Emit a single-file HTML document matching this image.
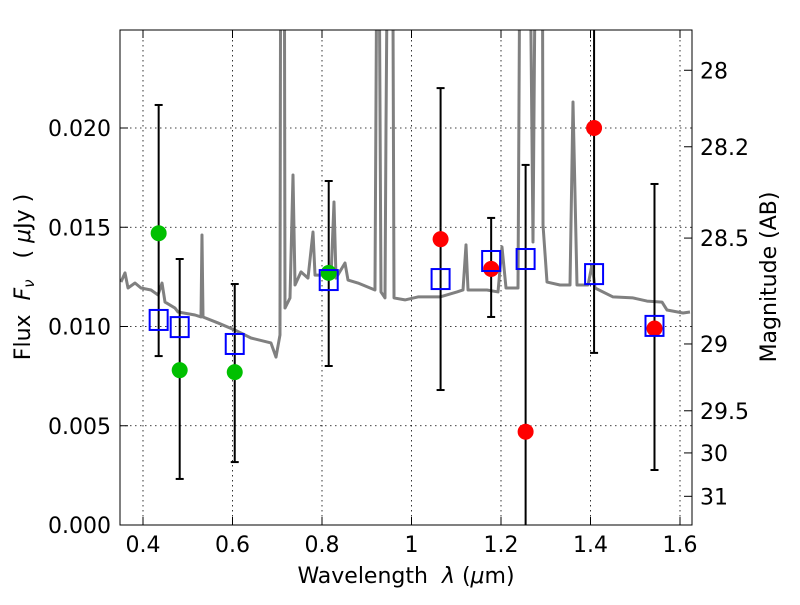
<!DOCTYPE html>
<html><head><meta charset="utf-8"><style>
body{margin:0;background:#fff}
svg text{font-family:"DejaVu Sans","Liberation Sans",sans-serif;fill:#000}
</style></head><body>
<svg id="chart" width="800" height="600" xmlns="http://www.w3.org/2000/svg">
<defs><clipPath id="pc"><rect x="120" y="30" width="572" height="495"/></clipPath></defs>
<rect width="800" height="600" fill="#fff"/>
<g id="grid"></g>
<g id="spec" clip-path="url(#pc)"></g>
<g id="marks" clip-path="url(#pc)"></g>
<rect x="120" y="30" width="572" height="495" fill="none" stroke="#000" stroke-width="1"/>
<g id="axes"></g>
<text x="406" y="583" font-size="22" text-anchor="middle">Wavelength&#160;&#160;<tspan font-style="italic">λ</tspan> (<tspan font-style="italic">μ</tspan>m)</text>
<text transform="translate(30,277) rotate(-90)" font-size="22" text-anchor="middle">Flux&#160;&#160;<tspan font-style="italic">F</tspan><tspan font-size="15" dy="4" font-style="italic">ν</tspan><tspan dy="-4">&#160;&#160;&#160;( <tspan font-style="italic">μ</tspan>Jy )</tspan></text>
<text transform="translate(776,277) rotate(-90)" font-size="22" text-anchor="middle">Magnitude (AB)</text>
</svg>
<script>
const specWl=[0.3508,0.3598,0.3665,0.3821,0.3955,0.4179,0.4335,0.4425,0.4492,0.4715,0.4782,0.5162,0.5296,0.5318,0.5341,0.5676,0.6056,0.6413,0.6860,0.6972,0.7061,0.7084,0.7151,0.7173,0.7285,0.7352,0.7397,0.7531,0.7687,0.7799,0.7844,0.8067,0.8201,0.8268,0.8313,0.8514,0.8581,0.8804,0.9184,0.9251,0.9318,0.9408,0.9430,0.9497,0.9564,0.9609,0.9855,1.0145,1.0637,1.1017,1.1151,1.1218,1.1263,1.1687,1.1933,1.2022,1.2112,1.2380,1.2447,1.2514,1.2603,1.2715,1.2804,1.2916,1.2939,1.3028,1.3318,1.3542,1.3609,1.3698,1.3944,1.4034,1.4101,1.4503,1.4950,1.5263,1.5598,1.5710,1.6067,1.6223];
const specFlux=[0.01224,0.01270,0.01194,0.01219,0.01194,0.01184,0.01159,0.01219,0.01123,0.01093,0.01073,0.01058,0.01048,0.01461,0.01048,0.01018,0.00982,0.00942,0.00917,0.00846,0.00957,0.04,0.04,0.01093,0.01144,0.01763,0.01209,0.01275,0.01244,0.01476,0.01259,0.01259,0.01244,0.01627,0.01244,0.01320,0.01234,0.01219,0.01184,0.04,0.01174,0.01144,0.02000,0.04,0.04,0.01144,0.01134,0.01149,0.01149,0.01174,0.01184,0.01411,0.01184,0.01184,0.01174,0.01401,0.01194,0.01194,0.04,0.04,0.04,0.01426,0.04,0.04,0.01511,0.01224,0.01209,0.01209,0.02131,0.01209,0.01209,0.01310,0.01194,0.01149,0.01144,0.01128,0.01123,0.01083,0.01068,0.01073];
const greenWl=[0.435,0.482,0.605,0.815];
const greenFlux=[0.0147,0.0078,0.0077,0.0127];
const redWl=[1.065,1.178,1.255,1.408,1.543];
const redFlux=[0.0144,0.0129,0.0047,0.0200,0.0099];
const sqWl=[0.435,0.482,0.605,0.815,1.065,1.178,1.255,1.408,1.543];
const sqFlux=[0.01033,0.00997,0.00912,0.01234,0.01239,0.0133,0.0134,0.01264,0.01003];
const errHi=[0.02116,0.0134,0.01214,0.01733,0.02201,0.01547,0.01814,0.03,0.01718];
const errLo=[0.00851,0.00232,0.00317,0.00801,0.0068,0.01048,-0.002,0.00867,0.00277];
const xTicks=[0.4,0.6,0.8,1.0,1.2,1.4,1.6];
const xTickLabels=["0.4","0.6","0.8","1","1.2","1.4","1.6"];
const yTicks=[0,0.005,0.010,0.015,0.020];
const yTickLabels=["0.000","0.005","0.010","0.015","0.020"];
const magTicks=[28,28.2,28.5,29,29.5,30,31];
const magTickLabels=["28","28.2","28.5","29","29.5","30","31"];

const NS="http://www.w3.org/2000/svg";
const X=w=>143+(w-0.4)*447.5;
const Y=f=>525-f*19850;
const magToFlux=m=>Math.pow(10,(23.9-m)/2.5);
function mk(tag,attrs,parent){const e=document.createElementNS(NS,tag);for(const k in attrs)e.setAttribute(k,attrs[k]);parent.appendChild(e);return e;}
const grid=document.getElementById('grid'),axes=document.getElementById('axes'),spec=document.getElementById('spec'),marks=document.getElementById('marks');
xTicks.forEach((t,i)=>{const x=X(t);
 const g=mk('line',{x1:x,x2:x,y1:30,y2:525,stroke:'#000','stroke-width':0.8,'stroke-dasharray':'1.5,3.5'},grid);
 
 mk('line',{x1:x,x2:x,y1:525,y2:517,stroke:'#000'},axes);
 mk('line',{x1:x,x2:x,y1:30,y2:38,stroke:'#000'},axes);
 const tx=mk('text',{x:x,y:552,'font-size':22,'text-anchor':'middle'},axes);tx.textContent=xTickLabels[i];
 });
yTicks.forEach((t,i)=>{const y=Y(t);
 const g=mk('line',{x1:120,x2:692,y1:y,y2:y,stroke:'#000','stroke-width':0.8,'stroke-dasharray':'1.5,3.5'},grid);
 
 mk('line',{x1:120,x2:128,y1:y,y2:y,stroke:'#000'},axes);
 const tx=mk('text',{x:111,y:y+8,'font-size':22,'text-anchor':'end'},axes);tx.textContent=yTickLabels[i];
 });
magTicks.forEach((m,i)=>{const y=Y(magToFlux(m));
 mk('line',{x1:684,x2:692,y1:y,y2:y,stroke:'#000'},axes);
 const tx=mk('text',{x:700,y:y+8,'font-size':22},axes);tx.textContent=magTickLabels[i];
 });
const pl=mk('polyline',{points:specWl.map((w,i)=>X(w)+','+Y(specFlux[i])).join(' '),fill:'none',stroke:'#808080','stroke-width':3,'stroke-linejoin':'round'},spec);

sqWl.forEach((w,i)=>{const x=X(w),y1=Y(errHi[i]),y2=Y(errLo[i]);
 const e=mk('line',{x1:x,x2:x,y1:y1,y2:y2,stroke:'#000','stroke-width':2},marks);
 
 mk('line',{x1:x-4,x2:x+4,y1:y1,y2:y1,stroke:'#000','stroke-width':2},marks);
 mk('line',{x1:x-4,x2:x+4,y1:y2,y2:y2,stroke:'#000','stroke-width':2},marks);});
greenWl.forEach((w,i)=>{const c=mk('circle',{cx:X(w),cy:Y(greenFlux[i]),r:8,fill:'#00c000'},marks);
 });
redWl.forEach((w,i)=>{const c=mk('circle',{cx:X(w),cy:Y(redFlux[i]),r:8,fill:'#ff0000'},marks);
 });
sqWl.forEach((w,i)=>{const r=mk('rect',{x:X(w)-9,y:Y(sqFlux[i])-10,width:18,height:20,fill:'none',stroke:'#0000ff','stroke-width':2},marks);
 });
</script>
</body></html>
